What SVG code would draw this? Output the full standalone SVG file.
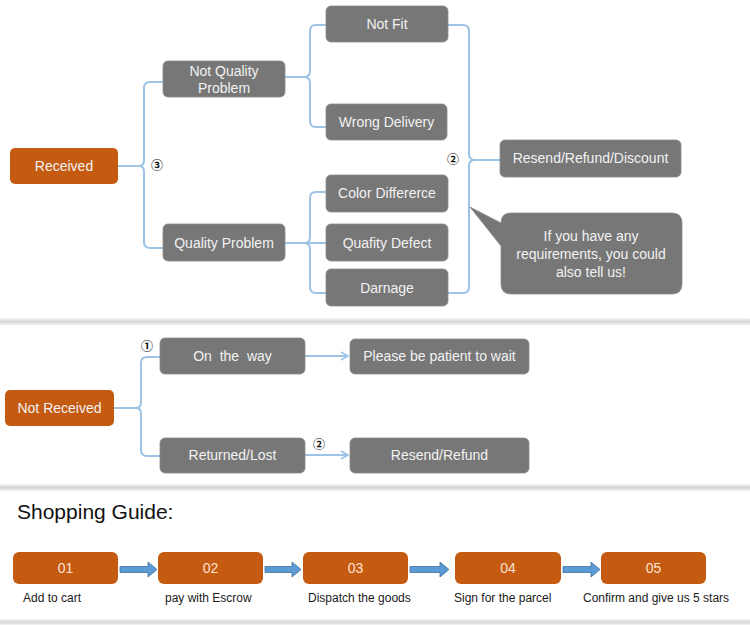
<svg xmlns="http://www.w3.org/2000/svg" width="750" height="625" viewBox="0 0 750 625">
<defs>
<style>
.g{fill:#777777;stroke:#8a8a8a;stroke-width:0.8}
.o{fill:#c55a11}
.t{font-family:"Liberation Sans",Arial,sans-serif;font-size:14px;fill:#f2f2f2;text-anchor:middle}
.n{font-family:"Liberation Sans",Arial,sans-serif;font-size:14px;fill:#fbe3d3;text-anchor:middle}
.l{font-family:"Liberation Sans",Arial,sans-serif;font-size:12px;fill:#1a1a1a}
.c{fill:none;stroke:#9dc3e6;stroke-width:2}
.ci{font-family:"Noto Sans CJK SC",sans-serif;font-size:12px;font-weight:bold;fill:#111;text-anchor:middle}
.ba{fill:#5b9bd5;stroke:#41719c;stroke-width:0.8}
</style>
<linearGradient id="sep" x1="0" y1="0" x2="0" y2="1">
<stop offset="0" stop-color="#f6f6f6"/>
<stop offset="0.5" stop-color="#d6d6d6"/>
<stop offset="1" stop-color="#f2f2f2"/>
</linearGradient>
<marker id="ah" markerWidth="10" markerHeight="10" refX="8" refY="5" orient="auto" markerUnits="userSpaceOnUse">
<path d="M1,1 L8,5 L1,9" fill="none" stroke="#9dc3e6" stroke-width="1.6"/>
</marker>
</defs>
<rect width="750" height="625" fill="#ffffff"/>
<rect x="0" y="318" width="750" height="7" fill="url(#sep)"/>
<rect x="0" y="484" width="750" height="7" fill="url(#sep)"/>
<rect x="0" y="619" width="750" height="6" fill="url(#sep)"/>

<g id="connectors">
<path class="c" d="M118,166 H139 Q144,166 144,160 V88 Q144,82 150,82 H163"/>
<path class="c" d="M139,166 Q144,166 144,172 V242 Q144,248 150,248 H163"/>
<path class="c" d="M285,77 H304 Q310,77 310,71 V31 Q310,25 316,25 H326"/>
<path class="c" d="M304,77 Q310,77 310,83 V121 Q310,127 316,127 H326"/>
<path class="c" d="M285,243 H326"/>
<path class="c" d="M304,243 Q310,243 310,237 V198 Q310,192 316,192 H326"/>
<path class="c" d="M304,243 Q310,243 310,249 V287 Q310,293 316,293 H326"/>
<path class="c" d="M448,25 H463 Q469,25 469,31 V154 Q469,160 475,160 H500"/>
<path class="c" d="M475,160 Q469,160 469,166 V287 Q469,293 463,293 H448"/>
<path class="c" d="M114,408 H136 Q141,408 141,402 V363 Q141,357 147,357 H160"/>
<path class="c" d="M136,408 Q141,408 141,414 V450 Q141,456 147,456 H160"/>
<path class="c" d="M305,356 H348" marker-end="url(#ah)"/>
<path class="c" d="M305,455 H348" marker-end="url(#ah)"/>
<polygon class="ba" points="120,566.5 148,566.5 148,562 157,569.5 148,577 148,572.5 120,572.5"/>
<polygon class="ba" points="265,566.5 292,566.5 292,562 301,569.5 292,577 292,572.5 265,572.5"/>
<polygon class="ba" points="410,566.5 440,566.5 440,562 449,569.5 440,577 440,572.5 410,572.5"/>
<polygon class="ba" points="563,566.5 591,566.5 591,562 600,569.5 591,577 591,572.5 563,572.5"/>
</g>

<text class="ci" x="157" y="170">③</text>
<text class="ci" x="453" y="164">②</text>
<text class="ci" x="147" y="351">①</text>
<text class="ci" x="319" y="449">②</text>

<g id="received"><rect class="o" x="10" y="148" width="108" height="36" rx="5"/><text class="t" x="64" y="171">Received</text></g>
<g id="not-quality"><rect class="g" x="163" y="61" width="122" height="36" rx="5"/><text class="t" x="224" y="76">Not Quality</text><text class="t" x="224" y="93">Problem</text></g>
<g id="quality"><rect class="g" x="163" y="224" width="122" height="37" rx="5"/><text class="t" x="224" y="248">Quality Problem</text></g>
<g id="not-fit"><rect class="g" x="326" y="6" width="122" height="36" rx="5"/><text class="t" x="387" y="29">Not Fit</text></g>
<g id="wrong-delivery"><rect class="g" x="326" y="104" width="121" height="36" rx="5"/><text class="t" x="386.5" y="127">Wrong Delivery</text></g>
<g id="color"><rect class="g" x="326" y="175" width="122" height="37" rx="5"/><text class="t" x="387" y="198">Color Differerce</text></g>
<g id="defect"><rect class="g" x="326" y="224" width="122" height="37" rx="5"/><text class="t" x="387" y="248">Quafity Defect</text></g>
<g id="damage"><rect class="g" x="326" y="269" width="122" height="37" rx="5"/><text class="t" x="387" y="293">Darnage</text></g>
<g id="resend-discount"><rect class="g" x="500" y="140" width="181" height="37" rx="5"/><text class="t" x="590.5" y="163">Resend/Refund/Discount</text></g>
<g id="callout">
<path class="g" d="M511,213 H672 Q682,213 682,223 V284 Q682,294 672,294 H511 Q501,294 501,284 V246 L470,207 L501,223 Q501,213 511,213 Z"/>
<text class="t" x="591" y="241">If you have any</text>
<text class="t" x="591" y="259">requirements, you could</text>
<text class="t" x="591" y="277">also tell us!</text>
</g>

<g id="not-received"><rect class="o" x="5" y="390" width="109" height="36" rx="5"/><text class="t" x="59.5" y="413">Not Received</text></g>
<g id="on-the-way"><rect class="g" x="160" y="338" width="145" height="36" rx="5"/><text class="t" x="232.5" y="361" xml:space="preserve">On  the  way</text></g>
<g id="patient"><rect class="g" x="350" y="339" width="179" height="35" rx="5"/><text class="t" x="439.5" y="361">Please be patient to wait</text></g>
<g id="returned"><rect class="g" x="160" y="438" width="145" height="35" rx="5"/><text class="t" x="232.5" y="460">Returned/Lost</text></g>
<g id="resend-refund"><rect class="g" x="350" y="438" width="179" height="35" rx="5"/><text class="t" x="439.5" y="460">Resend/Refund</text></g>

<text x="17" y="519" font-family="Liberation Sans,Arial,sans-serif" font-size="21" fill="#111">Shopping Guide:</text>

<g id="step01"><rect class="o" x="13" y="552" width="105" height="32" rx="6"/><text class="n" x="65.5" y="573">01</text><text class="l" x="23" y="602">Add to cart</text></g>
<g id="step02"><rect class="o" x="158" y="552" width="105" height="32" rx="6"/><text class="n" x="210.5" y="573">02</text><text class="l" x="165" y="602">pay with Escrow</text></g>
<g id="step03"><rect class="o" x="303" y="552" width="105" height="32" rx="6"/><text class="n" x="355.5" y="573">03</text><text class="l" x="308" y="602">Dispatch the goods</text></g>
<g id="step04"><rect class="o" x="455" y="552" width="106" height="32" rx="6"/><text class="n" x="508" y="573">04</text><text class="l" x="454" y="602">Sign for the parcel</text></g>
<g id="step05"><rect class="o" x="601" y="552" width="105" height="32" rx="6"/><text class="n" x="653.5" y="573">05</text><text class="l" x="583" y="602">Confirm and give us 5 stars</text></g>
</svg>
